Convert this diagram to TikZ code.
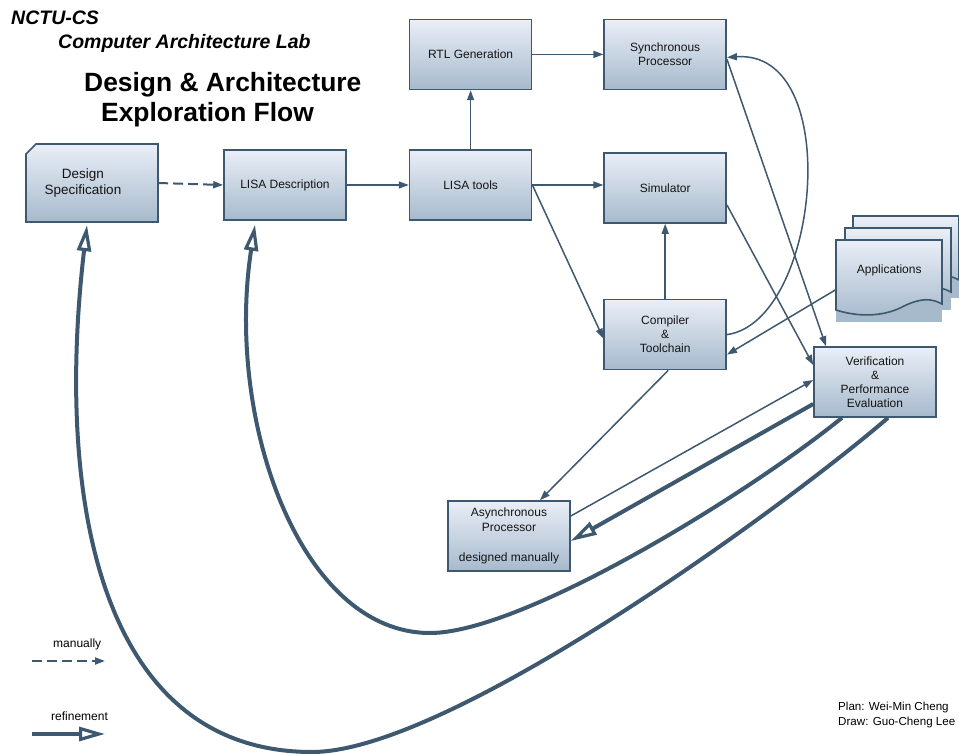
\documentclass[tikz,border=0pt]{standalone}
\usepackage{fontspec}
\setmainfont{Liberation Sans}
\usetikzlibrary{arrows.meta,positioning}
\definecolor{edge}{RGB}{62,88,112}
\definecolor{boxtop}{RGB}{234,238,247}
\definecolor{boxbot}{RGB}{166,186,204}
\definecolor{ink}{RGB}{20,20,20}

\begin{document}
\begin{tikzpicture}[
  x=1pt, y=-1pt,
  box/.style={draw=edge, line width=1.6pt, top color=boxtop, bottom color=boxbot,
              minimum width=122pt, minimum height=70pt, align=center, text=ink,
              font=\fontsize{12}{14}\selectfont},
  doc/.style={draw=edge, line width=1.6pt, top color=boxtop, bottom color=boxbot},
  head/.style={anchor=base west, inner sep=0pt, text=black},
  flow/.style={draw=edge, line width=1.5pt, -{Triangle[length=10pt,width=7pt]}},
  manual/.style={flow, line width=2pt, dash pattern=on 10pt off 5pt},
  refine/.style={draw=edge, line width=4pt,
                 -{Triangle[open,length=26pt,width=14pt,line width=3.2pt]}}
]
  \clip (0,0) rectangle (959,754);

  % Titles
  \node[head, font=\fontsize{19.5}{22}\selectfont\bfseries\itshape] (lab) at (11,25) {NCTU-CS};
  \node[head, font=\fontsize{19.5}{22}\selectfont\bfseries\itshape] (labname) at (58,49) {Computer Architecture Lab};
  \node[head, font=\fontsize{26.4}{30}\selectfont\bfseries] (title) at (84,92) {Design \& Architecture};
  \node[head, font=\fontsize{26.4}{30}\selectfont\bfseries] (subtitle) at (101,122) {Exploration Flow};

  % Design specification (cut corner)
  \draw[doc] (26,154) -- (36,144) -- (158,144) -- (158,222) -- (26,222) -- cycle;
  \node[minimum width=114pt, minimum height=78pt, align=center, text=ink,
        font=\fontsize{13.5}{16}\selectfont] (spec) at (83,183) {Design\\Specification};

  % Main flow
  \node[box] (lisa) at (285,185) {LISA Description};
  \node[box, right=62pt of lisa] (tools) {LISA tools};
  \node[box, above=59pt of tools] (rtl) {RTL Generation};
  \node[box, right=71pt of rtl] (sync) {Synchronous\\Processor};
  \node[box, right=71pt of tools, yshift=-3pt] (sim) {Simulator};
  \node[box, below=75pt of sim] (comp) {Compiler\\\&\\Toolchain};
  \node[box] (ver) at (875,382) {Verification\\\&\\Performance\\Evaluation};
  \node[box, font=\fontsize{12}{15}\selectfont] (async) at (509,536)
    {Asynchronous\\Processor\\[15pt]designed manually};

  % Application stack
  \foreach \dx/\dy in {17/-24, 9/-12, 0/0}{
    \begin{scope}[shift={(\dx,\dy)}]
      \fill[boxbot] (836,262) rectangle (942,322);
      \draw[doc] (836,240) -- (942,240) -- (942,304)
        .. controls (931,298) and (921,298) .. (904,306)
        .. controls (886,316) and (861,318) .. (836,310) -- cycle;
    \end{scope}
  }
  \node[minimum width=106pt, minimum height=60pt, anchor=north west, text=ink,
        font=\fontsize{12}{14}\selectfont] (apps) at (836,240) {Applications};

  % Arrows
  \draw[manual] ([xshift=18pt]spec.east) -- (lisa.west);
  \draw[flow] (lisa.east) -- (tools.west);
  \draw[flow] (tools.north) -- (rtl.south);
  \draw[flow] (rtl.east) -- (sync.west);
  \draw[flow] (tools.east) -- (tools.east -| sim.west);
  \draw[flow] (tools.east) -- ([yshift=-4pt]comp.west);
  \draw[flow] (comp.north) -- (sim.south);
  \draw[flow] (comp.east) .. controls +(93,-13) and +(118,-8) .. ([yshift=-3pt]sync.east);
  \draw[flow] ([yshift=-5pt]sync.east) -- ([xshift=-49pt]ver.north);
  \draw[flow] ([yshift=-17pt]sim.east) -- ([yshift=17pt]ver.west);
  \draw[flow] (apps.200) -- ([yshift=-20pt]comp.east);
  \draw[flow] ([xshift=3pt]comp.south) -- ([xshift=31pt]async.north);
  \draw[flow] ([yshift=20pt]async.east) -- ([yshift=2pt]ver.west);

  % Refinement loops
  \draw[refine] ([yshift=-22pt]ver.west) -- ([yshift=-5pt]async.east);
  \draw[refine] ([xshift=-33pt]ver.south) .. controls (740,500) and (520,633) .. (430,633)
    .. controls (300,633) and (225,420) .. ([xshift=-30pt,yshift=-4pt]lisa.south);
  \draw[refine] ([xshift=13pt]ver.south) .. controls (788,504) and (450,752) .. (312,752)
    .. controls (100,752) and (55,500) .. ([xshift=4pt,yshift=-3pt]spec.south);

  % Legend
  \node[head, font=\fontsize{12}{14}\selectfont] (manlbl) at (53,647) {manually};
  \coordinate (manA) at (32,661);
  \coordinate (manB) at (105,661);
  \draw[manual] (manA) -- (manB);
  \node[head, font=\fontsize{12}{14}\selectfont] (reflbl) at (51,720) {refinement};
  \coordinate (refA) at (32,734);
  \coordinate (refB) at (105,734);
  \draw[refine] (refA) -- (refB);

  % Credits
  \node[anchor=north west, inner sep=0pt, align=left, text=black,
        font=\fontsize{11.6}{15}\selectfont] (credit) at (838,702)
    {Plan: Wei-Min Cheng\\Draw: Guo-Cheng Lee};
\end{tikzpicture}
\end{document}
